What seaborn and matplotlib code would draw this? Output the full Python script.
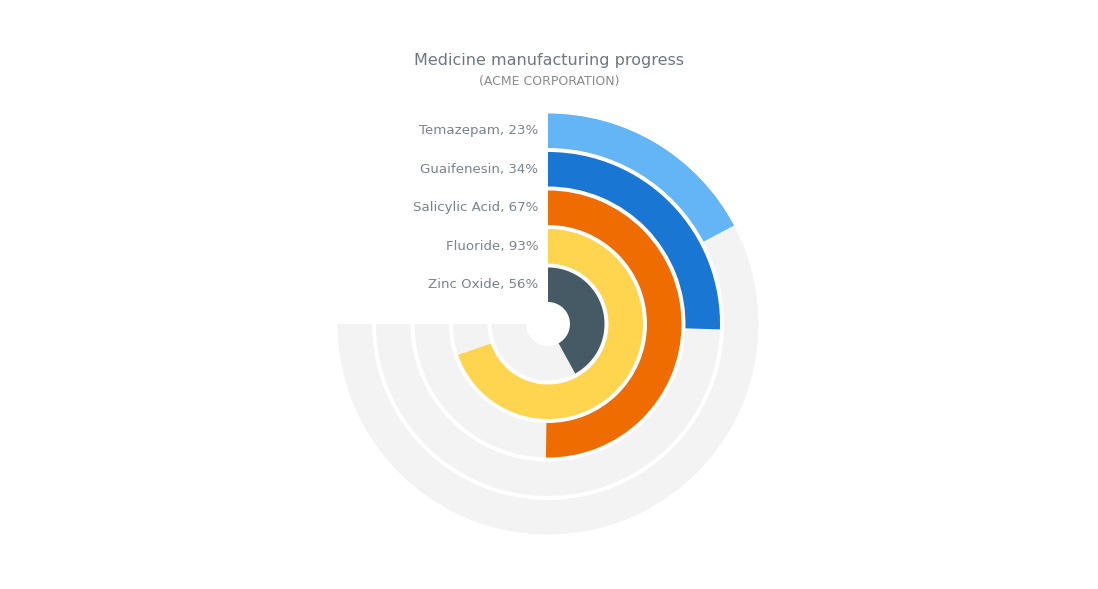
import numpy as np
import matplotlib
matplotlib.use("Agg")
import matplotlib.pyplot as plt
import seaborn as sns

# data, outermost ring first
names = ["Temazepam", "Guaifenesin", "Salicylic Acid", "Fluoride", "Zinc Oxide"]
values = [23, 34, 67, 93, 56]
colors = ["#64b5f6", "#1976d2", "#ef6c00", "#ffd54f", "#455a64"]

sns.set_theme(style="white")
plt.rcParams['font.family'] = ['Verdana', 'DejaVu Sans']

W, H = 1098, 589
fig = plt.figure(figsize=(W / 100, H / 100), dpi=100)

cx, cy, R = 548, 324, 211
ax = fig.add_axes([(cx - R) / W, (H - cy - R) / H, 2 * R / W, 2 * R / H], projection='polar')
ax.set_theta_zero_location('N')
ax.set_theta_direction(-1)
ax.set_ylim(0, R)

inner, bw, gap = 22, 34.5, 4.0
span = 1.5 * np.pi  # 270 degrees = 100 %
n = len(names)
text_col = "#7a848c"
for i, (name, v, c) in enumerate(zip(names, values, colors)):
    k = n - 1 - i
    r0 = inner + k * (bw + gap)
    ax.barh(r0 + bw / 2, span, height=bw, left=0, color="#f3f3f3", linewidth=0)
    ax.barh(r0 + bw / 2, span * v / 100, height=bw, left=0, color=c, linewidth=0)
    ax.annotate(f"{name}, {v}%", xy=(0, r0 + bw / 2), xytext=(-7, 0),
                textcoords='offset points', ha='right', va='center',
                fontsize=9.6, color=text_col)

ax.grid(False)
ax.set_xticks([])
ax.set_yticks([])
ax.spines['polar'].set_visible(False)
ax.set_facecolor('none')

fig.text(549 / W, 1 - 60 / H, "Medicine manufacturing progress", ha='center', va='center',
         fontsize=11.5, color="#6d7880")
fig.text(549 / W, 1 - 81 / H, "(ACME CORPORATION)", ha='center', va='center',
         fontsize=9, color="#8a8a8a")

fig.savefig("out.png", dpi=100, facecolor='white')
